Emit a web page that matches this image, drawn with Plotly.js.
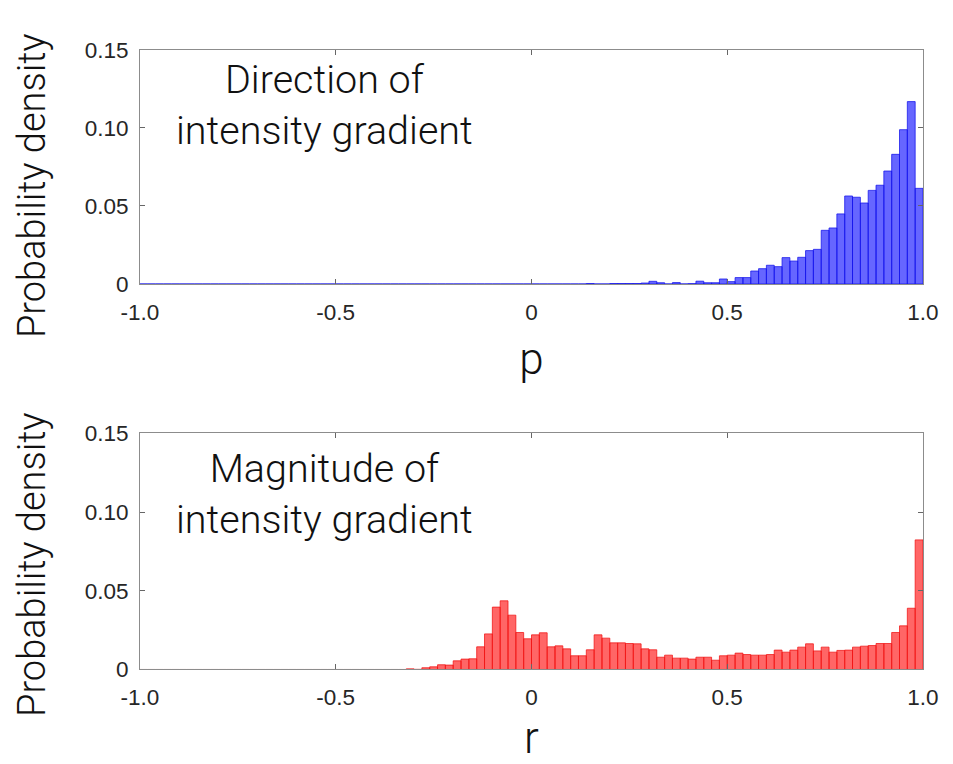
<!DOCTYPE html>
<html>
<head>
<meta charset="utf-8">
<script src="https://cdn.plot.ly/plotly-3.0.1.min.js"></script>
<style>html,body{margin:0;padding:0;background:#fff;}#chart{width:953px;height:764px;}</style>
</head>
<body>
<div id="chart"></div>
<script>
// Histogram bins: 100 bins of width 0.02 from -1 to 1
const binStart = -1;
const binWidth = 0.02;

// Probability density of p (direction of intensity gradient), one value per bin
const pDensity = [
  0,0,0,0,0,0,0,0,0,0,
  0,0,0,0,0,0,0,0,0,0,
  0,0,0,0,0,0,0,0,0,0,
  0,0,0,0,0,0,0,0,0,0,
  0,0,0,0,0,0,0,0,0,0,
  0,0,0,0,0,0,0,0.0003,0,0,
  0.0003,0.0003,0.0003,0.0003,0.0006,0.0017,0.0008,0,0.0009,0,
  0.0002,0.0018,0.0008,0.0008,0.0032,0.0015,0.0041,0.0041,0.0083,0.0098,
  0.0120,0.0111,0.0169,0.0147,0.0171,0.0214,0.0222,0.0344,0.0359,0.0449,
  0.0564,0.0556,0.0519,0.0600,0.0633,0.0724,0.0831,0.0989,0.1169,0.0613
];

// Probability density of r (magnitude of intensity gradient), one value per bin
const rDensity = [
  0,0,0,0,0,0,0,0,0,0,
  0,0,0,0,0,0,0,0,0,0,
  0,0,0,0,0,0,0,0,0,0,
  0,0,0,0,0.0004,0.0001,0.0011,0.0017,0.0030,0.0028,
  0.0055,0.0066,0.0068,0.0144,0.0226,0.0396,0.0436,0.0345,0.0235,0.0195,
  0.0220,0.0233,0.0144,0.0150,0.0131,0.0087,0.0087,0.0125,0.0220,0.0199,
  0.0169,0.0169,0.0165,0.0163,0.0131,0.0125,0.0078,0.0091,0.0072,0.0072,
  0.0066,0.0078,0.0078,0.0059,0.0087,0.0091,0.0104,0.0095,0.0091,0.0091,
  0.0095,0.0123,0.0110,0.0123,0.0142,0.0163,0.0118,0.0142,0.0110,0.0121,
  0.0123,0.0142,0.0148,0.0152,0.0165,0.0165,0.0235,0.0277,0.0389,0.0823
];

const xTickVals = [-1, -0.5, 0, 0.5, 1];
const xTickText = ['-1.0', '-0.5', '0', '0.5', '1.0'];
const yTickVals = [0, 0.05, 0.10, 0.15];
const yTickText = ['0', '0.05', '0.10', '0.15'];
const yTitle = 'Probability density';

const titleFont = {family: 'Roboto, "Open Sans", sans-serif', weight: 300, color: '#111'};
const tickFont = {family: '"Liberation Sans", Arial, sans-serif', size: 22.5, color: '#262626'};

const traces = [
  {
    type: 'bar', x0: binStart + binWidth / 2, dx: binWidth, y: pDensity,
    xaxis: 'x', yaxis: 'y',
    marker: {color: 'rgba(0,0,255,0.6)', line: {color: 'rgba(20,20,235,0.95)', width: 0.8}},
    hoverinfo: 'x+y', showlegend: false
  },
  {
    type: 'bar', x0: binStart + binWidth / 2, dx: binWidth, y: rDensity,
    xaxis: 'x2', yaxis: 'y2',
    marker: {color: 'rgba(255,0,0,0.6)', line: {color: 'rgba(240,20,20,0.95)', width: 0.8}},
    hoverinfo: 'x+y', showlegend: false
  }
];

function xAxis(anchor, label, standoff) {
  return {
    anchor: anchor, domain: [0, 1], range: [-1, 1],
    tickvals: xTickVals, ticktext: xTickText, tickfont: tickFont,
    ticks: 'inside', ticklen: 5, tickcolor: '#666', tickwidth: 1,
    showline: true, linecolor: '#8c8c8c', linewidth: 1, mirror: 'ticks',
    showgrid: false, zeroline: false, ticklabelstandoff: 8,
    title: {text: label, font: Object.assign({size: 44}, titleFont), standoff: standoff}
  };
}
function yAxis(anchor, domain) {
  return {
    anchor: anchor, domain: domain, range: [0, 0.15],
    tickvals: yTickVals, ticktext: yTickText, tickfont: tickFont,
    ticks: 'inside', ticklen: 5, tickcolor: '#666', tickwidth: 1,
    showline: true, linecolor: '#8c8c8c', linewidth: 1, mirror: 'ticks',
    showgrid: false, zeroline: false, ticklabelstandoff: 6
  };
}

const layout = {
  width: 953, height: 764,
  margin: {l: 140, r: 30, t: 0, b: 0},
  paper_bgcolor: '#fff', plot_bgcolor: '#fff',
  bargap: 0,
  xaxis: xAxis('y', 'p', 19),
  yaxis: yAxis('x', [0.6283, 0.9346]),
  xaxis2: xAxis('y2', 'r', 23),
  yaxis2: yAxis('x2', [0.1237, 0.4329]),
  annotations: [
    {xref: 'x domain', yref: 'y domain', x: 0.236, y: 0.765, xanchor: 'center', yanchor: 'middle',
     showarrow: false, align: 'center', text: 'Direction of<br>intensity gradient',
     font: Object.assign({size: 39.5}, titleFont)},
    {xref: 'x2 domain', yref: 'y2 domain', x: 0.236, y: 0.743, xanchor: 'center', yanchor: 'middle',
     showarrow: false, align: 'center', text: 'Magnitude of<br>intensity gradient',
     font: Object.assign({size: 39.5}, titleFont)},
    {xref: 'paper', yref: 'paper', x: -0.1379, y: 0.7565, xanchor: 'center', yanchor: 'middle',
     textangle: -90, showarrow: false, text: yTitle,
     font: Object.assign({size: 38}, titleFont)},
    {xref: 'paper', yref: 'paper', x: -0.1379, y: 0.2605, xanchor: 'center', yanchor: 'middle',
     textangle: -90, showarrow: false, text: yTitle,
     font: Object.assign({size: 38}, titleFont)}
  ]
};

Plotly.newPlot('chart', traces, layout, {displayModeBar: false, staticPlot: true});
</script>
</body>
</html>
